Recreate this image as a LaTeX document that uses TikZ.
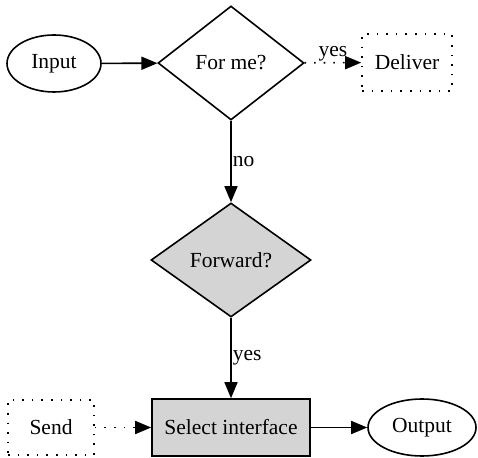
\documentclass[tikz,border=0pt]{standalone}
\usepackage{fontspec}
\setmainfont{Liberation Serif}
\usetikzlibrary{shapes.geometric,arrows.meta}

\begin{document}
\begin{tikzpicture}[x=1pt, y=1pt, line width=1.6pt,
        every node/.style={font=\fontsize{21.5}{26}\selectfont},
        terminal/.style={draw, ellipse, inner sep=0pt},
        decision/.style={draw, diamond, inner sep=0pt},
        action/.style={draw, rectangle, inner sep=0pt},
        loose/.style={dash pattern=on 1.6pt off 8pt},
        flow/.style={-{Triangle[length=16pt, width=13pt]}},
        lbl/.style={inner sep=1pt, font=\fontsize{21.5}{26}\selectfont}]
        \useasboundingbox (0,0) rectangle (478,457);
        %\draw[gray, dashed] (0,0) grid[step=50] (478,457);

        \node[terminal, minimum width=94, minimum height=57] (input) at (54,393.5) {Input};
        \node[decision, minimum width=146, minimum height=114] (forme) at (231,394) {For me?};
        \node[action, loose, minimum width=90, minimum height=57] (deliver) at (407,394.5) {Deliver};

        \node[decision, fill=black!17, minimum width=160, minimum height=114] (forward) at (231,197) {Forward?};

        \node[action, loose, minimum width=86, minimum height=55] (send) at (51,29.5) {Send};
        \node[action, fill=black!17, minimum width=158, minimum height=57] (select) at (231,29.5) {Select interface};
        \node[terminal, minimum width=108, minimum height=57] (output) at (422,29.5) {Output};

        \draw[flow] (input) -- (forme);
        \draw[flow, loose] (forme) -- node[lbl, above]{yes} (deliver);
        \draw[flow] (forme) -- node[lbl, right]{no} (forward);
        \draw[flow] (forward) -- node[lbl, right]{yes} (select);
        \draw[flow, loose] (send) -- (select);
        \draw[flow] (select) -- (output);
    \end{tikzpicture}
\end{document}
